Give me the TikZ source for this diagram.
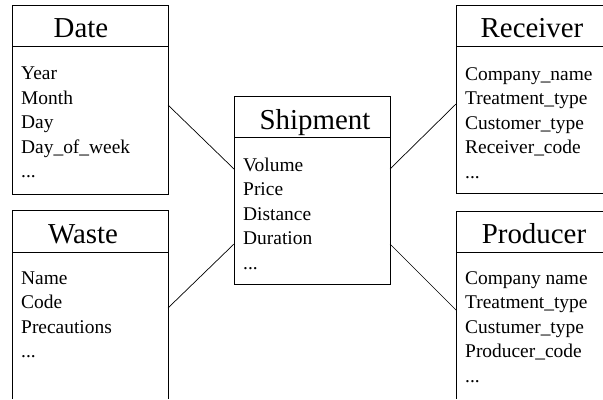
\documentclass[tikz,border=0pt]{standalone}
\usepackage{fontspec}
\setmainfont{Liberation Serif}
\newcommand{\attrlist}[1]{\begin{tabular}[t]{@{}l@{}}#1\end{tabular}}
\tikzset{
  boxline/.style={line width=0.8bp, draw=black},
  conn/.style={line width=0.7bp, draw=black},
  ttl/.style={anchor=base, inner sep=0pt, font=\fontsize{29}{29}\selectfont},
  attr/.style={anchor=base west, inner sep=0pt, font=\fontsize{19.5}{24.6}\selectfont},
}
\begin{document}
\begin{tikzpicture}[x=1bp,y=-1bp]
\useasboundingbox (0,0) rectangle (603,399);
% Date
\draw[boxline] (12,5) rectangle (168,194);
\draw[boxline] (12,46) -- (168,46);
\node[ttl] (dateT) at (81,37) {Date};
\node[attr] (dateA) at (21,79.5) {\attrlist{Year\\Month\\Day\\Day\_of\_week\\...}};
% Waste
\draw[boxline] (12,399) -- (12,210) -- (168,210) -- (168,399);
\draw[boxline] (12,252) -- (168,252);
\node[ttl] (wasteT) at (83,243) {Waste};
\node[attr] (wasteA) at (21,284) {\attrlist{Name\\Code\\Precautions\\...}};
% Shipment
\draw[boxline] (234,96) rectangle (390,284);
\draw[boxline] (234,137) -- (390,137);
\node[ttl] (shipT) at (315,129) {Shipment};
\node[attr] (shipA) at (243,171) {\attrlist{Volume\\Price\\Distance\\Duration\\...}};
% Receiver
\draw[boxline] (603,5) -- (456,5) -- (456,193) -- (603,193);
\draw[boxline] (456,46) -- (603,46);
\node[ttl] (recT) at (532,37) {Receiver};
\node[attr] (recA) at (465,80) {\attrlist{Company\_name\\Treatment\_type\\Customer\_type\\Receiver\_code\\...}};
% Producer
\draw[boxline] (603,211) -- (456,211) -- (456,399);
\draw[boxline] (456,252) -- (603,252);
\node[ttl] (prodT) at (534,243) {Producer};
\node[attr] (prodA) at (465,284) {\attrlist{Company name\\Treatment\_type\\Custumer\_type\\Producer\_code\\...}};
% connection points
\coordinate (dateR) at (168,105);
\coordinate (wasteR) at (168,308);
\coordinate (recL) at (456,104);
\coordinate (prodL) at (456,310);
\coordinate (shipLT) at (234,169);
\coordinate (shipLB) at (234,244);
\coordinate (shipRT) at (390,169);
\coordinate (shipRB) at (390,244);
\draw[conn] (dateR) -- (shipLT);
\draw[conn] (wasteR) -- (shipLB);
\draw[conn] (recL) -- (shipRT);
\draw[conn] (prodL) -- (shipRB);
\end{tikzpicture}
\end{document}
